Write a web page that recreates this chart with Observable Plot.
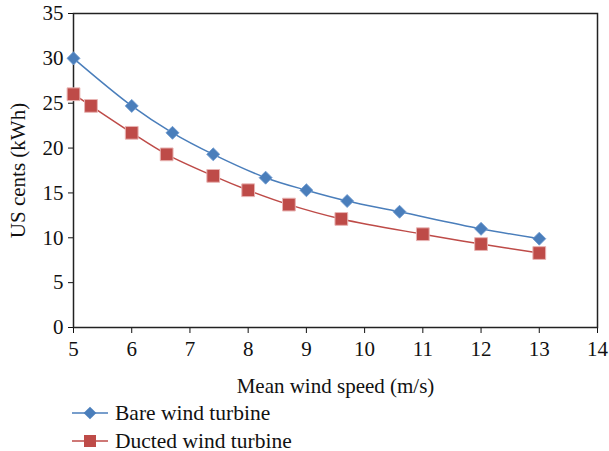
<!DOCTYPE html>
<html>
<head>
<meta charset="utf-8">
<script src="https://cdn.jsdelivr.net/npm/d3@7"></script>
<script src="https://cdn.jsdelivr.net/npm/@observablehq/plot@0.6"></script>
<style>
  html, body { margin: 0; padding: 0; background: #fff; }
  body { width: 609px; height: 451px; overflow: hidden; font-family: "Liberation Serif", "DejaVu Serif", serif; }
  #chart svg { display: block; }
  #legend { position: relative; margin-left: 72px; margin-top: -6px; font-size: 21.5px; color: #111; }
  #legend .row { display: flex; align-items: center; height: 28px; }
  #legend svg { margin-right: 7px; }
</style>
</head>
<body>
<div id="chart"></div>
<div id="legend"></div>
<script>
const seriesNames = ["Bare wind turbine", "Ducted wind turbine"];
const seriesColors = ["#4a7ebb", "#be4b48"];
const bareSpeed = [5, 6, 6.7, 7.4, 8.3, 9, 9.7, 10.6, 12, 13];
const bareCost  = [30, 24.7, 21.7, 19.3, 16.7, 15.3, 14.1, 12.9, 11, 9.9];
const ductSpeed = [5, 5.3, 6, 6.6, 7.4, 8, 8.7, 9.6, 11, 12, 13];
const ductCost  = [26, 24.7, 21.7, 19.3, 16.9, 15.3, 13.7, 12.1, 10.4, 9.3, 8.3];
const xTicks = [5, 6, 7, 8, 9, 10, 11, 12, 13, 14];
const yTicks = [0, 5, 10, 15, 20, 25, 30, 35];

const bare = bareSpeed.map((x, i) => ({x, y: bareCost[i]}));
const duct = ductSpeed.map((x, i) => ({x, y: ductCost[i]}));

const plot = Plot.plot({
  width: 609,
  height: 405,
  marginLeft: 73,
  marginRight: 12,
  marginTop: 13,
  marginBottom: 78,
  style: { fontFamily: "'Liberation Serif', 'DejaVu Serif', serif", fontSize: "21px", color: "#111", background: "#fff" },
  x: { domain: [5, 14], ticks: xTicks, tickSize: 6, tickPadding: 8, label: "Mean wind speed (m/s)", labelAnchor: "center", labelArrow: "none", labelOffset: 65 },
  y: { domain: [0, 35], ticks: yTicks, tickSize: 5, tickPadding: 5, label: "US cents (kWh)", labelAnchor: "center", labelArrow: "none", labelOffset: 63 },
  marks: [
    Plot.frame({ stroke: "#222", strokeWidth: 1.5 }),
    Plot.line(bare, { x: "x", y: "y", stroke: seriesColors[0], strokeWidth: 1.5, curve: "catmull-rom" }),
    Plot.line(duct, { x: "x", y: "y", stroke: seriesColors[1], strokeWidth: 1.5, curve: "catmull-rom" }),
    Plot.dot(bare, { x: "x", y: "y", symbol: "square", rotate: 45, r: 5.2, fill: seriesColors[0], stroke: "#6f9bd0", strokeWidth: 0.8 }),
    Plot.dot(duct, { x: "x", y: "y", symbol: "square", r: 7.2, fill: seriesColors[1], stroke: "#e8b4b3", strokeWidth: 1 })
  ]
});
document.getElementById("chart").appendChild(plot);

const legend = document.getElementById("legend");
seriesNames.forEach((name, i) => {
  const row = document.createElement("div");
  row.className = "row";
  const ns = "http://www.w3.org/2000/svg";
  const s = document.createElementNS(ns, "svg");
  s.setAttribute("width", 36); s.setAttribute("height", 20);
  const l = document.createElementNS(ns, "line");
  l.setAttribute("x1", 0); l.setAttribute("x2", 36); l.setAttribute("y1", 10); l.setAttribute("y2", 10);
  l.setAttribute("stroke", seriesColors[i]); l.setAttribute("stroke-width", 1.5);
  s.appendChild(l);
  const m = document.createElementNS(ns, "rect");
  if (i === 0) {
    m.setAttribute("x", 13.5); m.setAttribute("y", 5.5); m.setAttribute("width", 9); m.setAttribute("height", 9);
    m.setAttribute("transform", "rotate(45 18 10)");
  } else {
    m.setAttribute("x", 12); m.setAttribute("y", 4); m.setAttribute("width", 12); m.setAttribute("height", 12);
  }
  m.setAttribute("fill", seriesColors[i]);
  s.appendChild(m);
  row.appendChild(s);
  const t = document.createElement("span");
  t.textContent = name;
  row.appendChild(t);
  legend.appendChild(row);
});
</script>
</body>
</html>
